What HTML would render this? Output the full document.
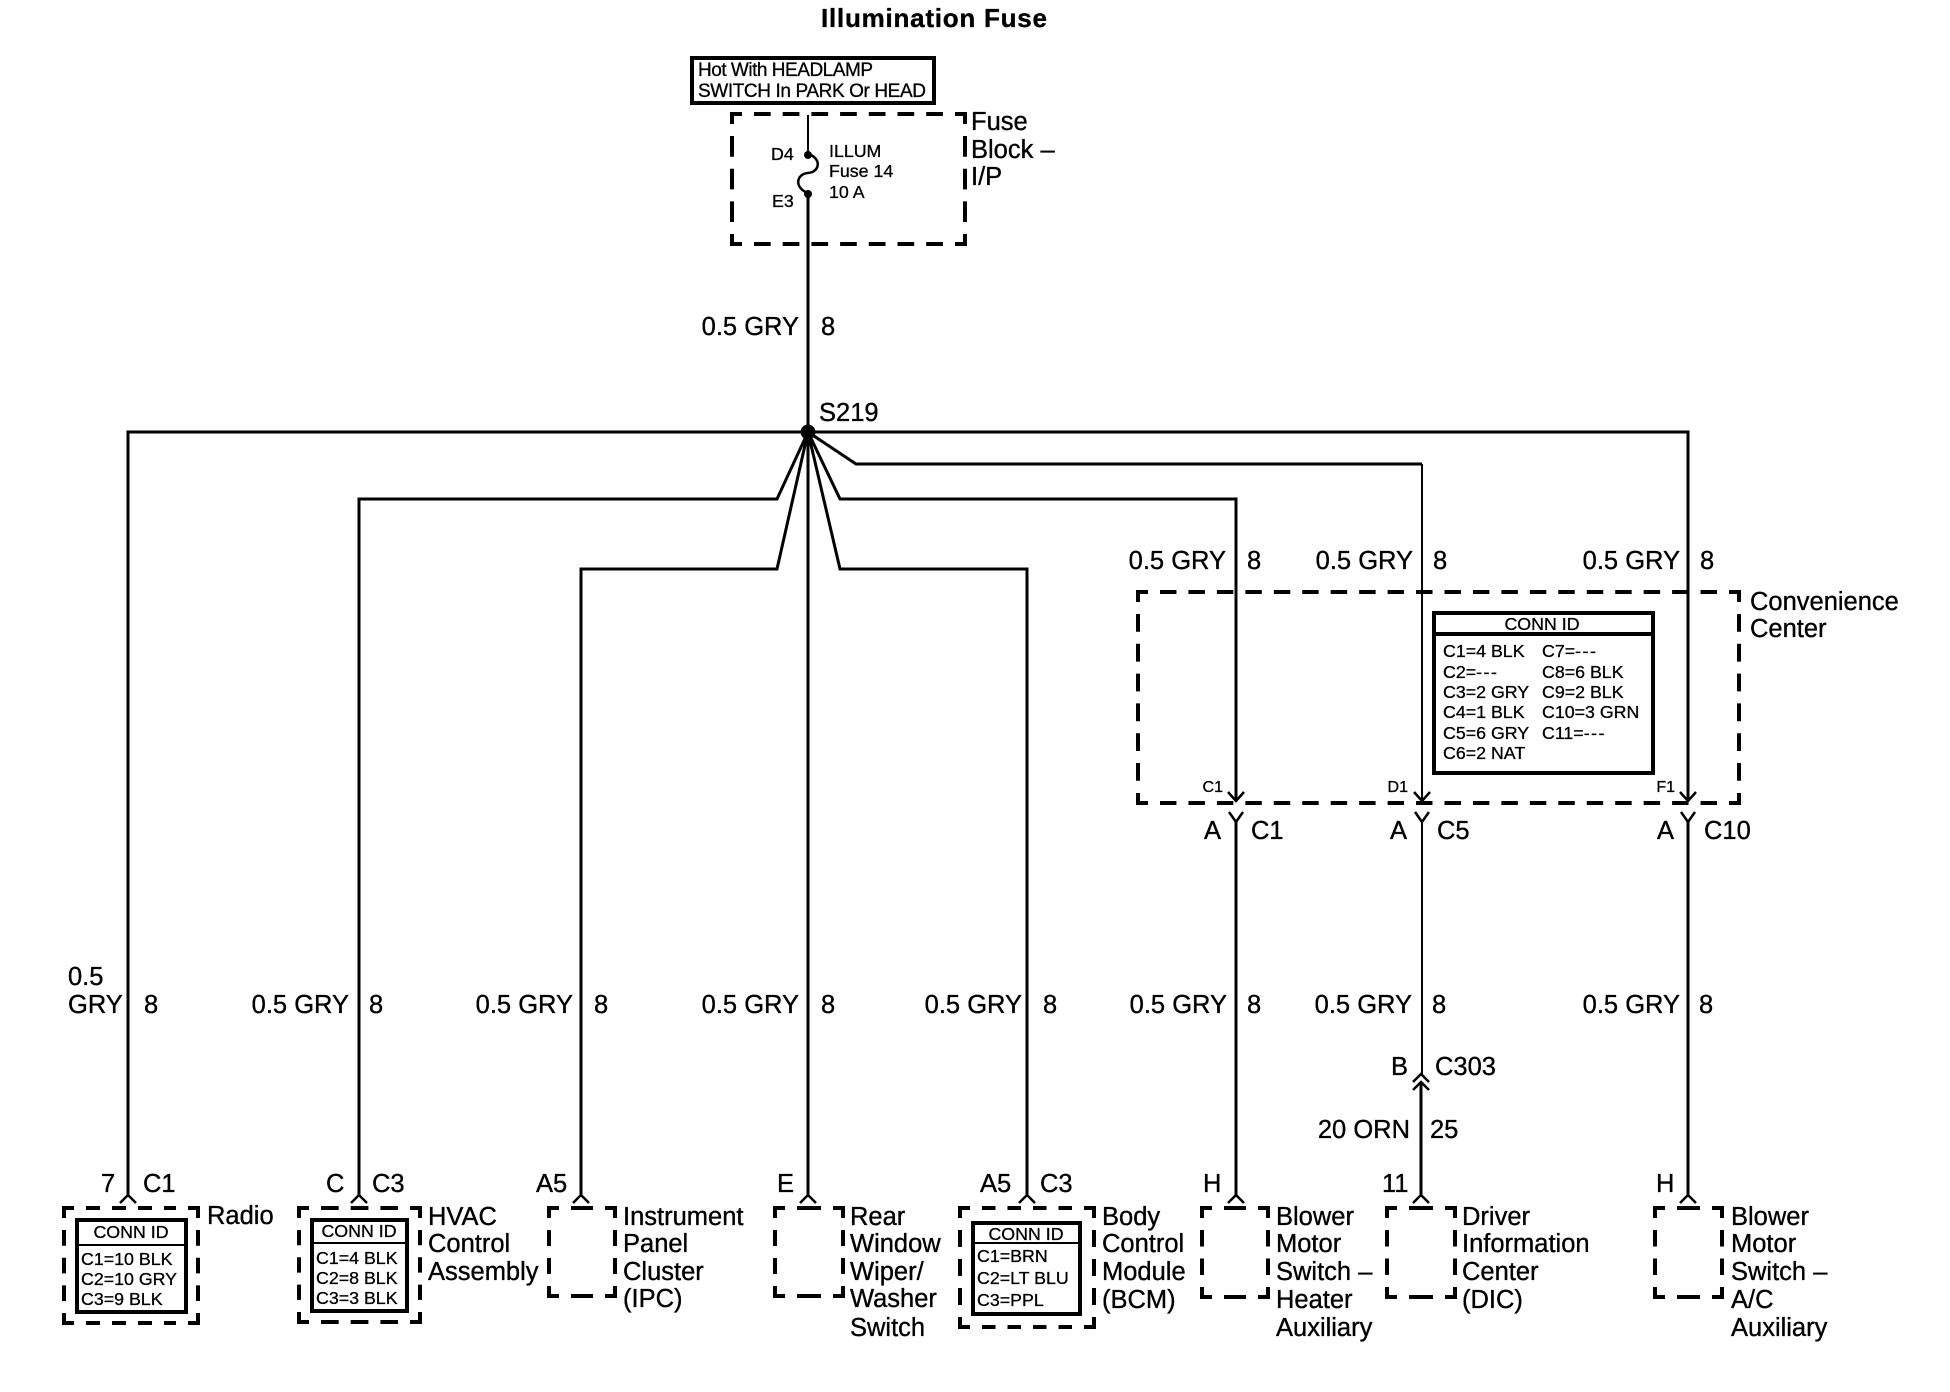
<!DOCTYPE html>
<html><head><meta charset="utf-8"><title>Illumination Fuse</title>
<style>
html,body{margin:0;padding:0;background:#fff}
svg{display:block}
text{font-family:"Liberation Sans",sans-serif;fill:#000;stroke:#000;stroke-width:.35px;font-size:25.5px}
.s{font-size:17.8px;stroke-width:.3px}
.m{font-size:19px;stroke-width:.3px}
.t{font-size:16px;stroke-width:.3px}
.e{text-anchor:end}
.c{text-anchor:middle}
.w{fill:none;stroke:#000;stroke-width:3}
.n{fill:none;stroke:#000;stroke-width:2}
.d{fill:none;stroke:#000;stroke-width:4}
.b{fill:none;stroke:#000;stroke-width:4}
.a{fill:none;stroke:#000;stroke-width:2.5}
.g{letter-spacing:1.5px}
</style></head><body>
<svg xmlns="http://www.w3.org/2000/svg" width="1950" height="1392" viewBox="0 0 1950 1392">
<rect width="1950" height="1392" fill="#fff"/>

<!-- Title and header -->
<text x="821" y="27" style="font-weight:bold;font-size:26px" textLength="226">Illumination Fuse</text>
<rect x="692" y="58" width="242" height="45" class="b"/>
<text x="698" y="76" class="m" textLength="175">Hot With HEADLAMP</text>
<text x="698" y="97" class="m" textLength="228">SWITCH In PARK Or HEAD</text>

<!-- Fuse block -->
<path class="d" d="M742 114H732V124M955 114H965V124M732 234V244H742M965 234V244H955"/>
<path class="d" stroke-dasharray="16.7 12" d="M754 114H943M754 244H943"/>
<path class="d" stroke-dasharray="20.7 12" d="M732 136V222M965 136V222"/>
<path class="n" d="M808 115V154"/>
<path class="a" d="M808 154C822 158 820 172 808 173C796 174 794 188 808 193"/>
<circle cx="808" cy="155" r="4"/><circle cx="808" cy="194" r="4"/>
<path class="w" d="M808 193V432"/>
<text x="771" y="160" class="s">D4</text>
<text x="772" y="207" class="s">E3</text>
<text x="829" y="157" class="s">ILLUM</text>
<text x="829" y="177" class="s">Fuse 14</text>
<text x="829" y="198" class="s">10 A</text>
<text x="971" y="130">Fuse</text>
<text x="971" y="158">Block –</text>
<text x="971" y="185">I/P</text>
<text x="799" y="335" class="e">0.5 GRY</text>
<text x="821" y="335">8</text>

<!-- Splice and wires -->
<circle cx="808" cy="432" r="7.5"/>
<text x="819" y="421">S219</text>
<path class="w" d="M128 1195V432H1688V801"/>
<path class="w" d="M808 432V1195"/>
<path class="w" d="M808 432L777 499H359V1195"/>
<path class="w" d="M808 432L777 569H581V1195"/>
<path class="w" d="M808 432L840 569H1027V1195"/>
<path class="w" d="M808 432L840 499H1236V801"/>
<path class="w" d="M808 432L856 464H1422"/>
<path class="n" d="M1422 464V801"/>
<path class="w" d="M1236 822V1195"/>
<path class="n" d="M1422 822V1075"/>
<path class="w" d="M1421 1082V1195"/>
<path class="w" d="M1688 822V1195"/>

<!-- Convenience center -->
<path class="d" d="M1148 592H1138V602M1729 592H1739V602M1138 793V803H1148M1739 793V803H1729"/>
<path class="d" stroke-dasharray="16.45 12" d="M1160 592H1717M1160 803H1717"/>
<path class="d" stroke-dasharray="17.8 12" d="M1138 614V781M1739 614V781"/>
<rect x="1434" y="613" width="219" height="160" class="b"/>
<path class="b" d="M1434 634H1653"/>
<text x="1542" y="630" class="s c">CONN ID</text>
<text x="1443" y="657" class="s">C1=4 BLK</text><text x="1542" y="657" class="s">C7=<tspan class="g">---</tspan></text>
<text x="1443" y="678" class="s">C2=<tspan class="g">---</tspan></text><text x="1542" y="678" class="s">C8=6 BLK</text>
<text x="1443" y="698" class="s">C3=2 GRY</text><text x="1542" y="698" class="s">C9=2 BLK</text>
<text x="1443" y="718" class="s">C4=1 BLK</text><text x="1542" y="718" class="s">C10=3 GRN</text>
<text x="1443" y="739" class="s">C5=6 GRY</text><text x="1542" y="739" class="s">C11=<tspan class="g">---</tspan></text>
<text x="1443" y="759" class="s">C6=2 NAT</text>
<text x="1750" y="610">Convenience</text>
<text x="1750" y="637">Center</text>
<text x="1226" y="569" class="e">0.5 GRY</text><text x="1247" y="569">8</text>
<text x="1413" y="569" class="e">0.5 GRY</text><text x="1433" y="569">8</text>
<text x="1680" y="569" class="e">0.5 GRY</text><text x="1700" y="569">8</text>
<text x="1223" y="792" class="t e">C1</text>
<text x="1408" y="792" class="t e">D1</text>
<text x="1675" y="792" class="t e">F1</text>
<path class="a" d="M1228 792L1236 801L1244 792M1414 792L1422 801L1430 792M1680 792L1688 801L1696 792"/>
<path class="a" d="M1229 812L1236 822L1243 812M1415 812L1422 822L1429 812M1681 812L1688 822L1695 812"/>
<text x="1221" y="839" class="e">A</text><text x="1251" y="839">C1</text>
<text x="1407" y="839" class="e">A</text><text x="1437" y="839">C5</text>
<text x="1674" y="839" class="e">A</text><text x="1704" y="839">C10</text>

<!-- Mid wire labels -->
<text x="68" y="985">0.5</text>
<text x="68" y="1013">GRY</text>
<text x="144" y="1013">8</text>
<text x="349" y="1013" class="e">0.5 GRY</text><text x="369" y="1013">8</text>
<text x="573" y="1013" class="e">0.5 GRY</text><text x="594" y="1013">8</text>
<text x="799" y="1013" class="e">0.5 GRY</text><text x="821" y="1013">8</text>
<text x="1022" y="1013" class="e">0.5 GRY</text><text x="1043" y="1013">8</text>
<text x="1227" y="1013" class="e">0.5 GRY</text><text x="1247" y="1013">8</text>
<text x="1412" y="1013" class="e">0.5 GRY</text><text x="1432" y="1013">8</text>
<text x="1680" y="1013" class="e">0.5 GRY</text><text x="1699" y="1013">8</text>

<!-- C303 -->
<text x="1391" y="1075">B</text>
<text x="1435" y="1075">C303</text>
<path class="a" d="M1413 1082L1421 1074L1429 1082M1413 1090L1421 1082L1429 1090"/>
<text x="1410" y="1138" class="e">20 ORN</text>
<text x="1430" y="1138">25</text>

<!-- Connector arrows -->
<path class="a" d="M120 1203L128 1195L136 1203M351 1203L359 1195L367 1203M573 1203L581 1195L589 1203M800 1203L808 1195L816 1203M1019 1203L1027 1195L1035 1203M1228 1203L1236 1195L1244 1203M1413 1203L1421 1195L1429 1203M1680 1203L1688 1195L1696 1203"/>

<!-- Connector labels -->
<text x="101" y="1192">7</text><text x="143" y="1192">C1</text>
<text x="326" y="1192">C</text><text x="372" y="1192">C3</text>
<text x="536" y="1192">A5</text>
<text x="777" y="1192">E</text>
<text x="980" y="1192">A5</text><text x="1040" y="1192">C3</text>
<text x="1203" y="1192">H</text>
<text x="1382" y="1192">11</text>
<text x="1656" y="1192">H</text>

<!-- Radio -->
<path class="d" d="M74 1208H64V1218M188 1208H198V1218M64 1313V1323H74M198 1313V1323H188"/>
<path class="d" stroke-dasharray="14 12" d="M86 1208H176M86 1323H176"/>
<path class="d" stroke-dasharray="15.7 12" d="M64 1230V1301M198 1230V1301"/>
<rect x="77" y="1220" width="109" height="92" class="b"/><path class="n" d="M77 1245H186"/>
<text x="131" y="1238" class="s c">CONN ID</text>
<text x="81" y="1265" class="s">C1=10 BLK</text>
<text x="81" y="1285" class="s">C2=10 GRY</text>
<text x="81" y="1305" class="s">C3=9 BLK</text>
<text x="207" y="1224">Radio</text>

<!-- HVAC -->
<path class="d" d="M309 1208H299V1218M410 1208H420V1218M299 1312V1322H309M420 1312V1322H410"/>
<path class="d" stroke-dasharray="17.7 12" d="M321 1208H398M321 1322H398"/>
<path class="d" stroke-dasharray="15.3 12" d="M299 1230V1300M420 1230V1300"/>
<rect x="312" y="1220" width="95" height="91" class="b"/><path class="n" d="M312 1243H407"/>
<text x="359" y="1237" class="s c">CONN ID</text>
<text x="316" y="1264" class="s">C1=4 BLK</text>
<text x="316" y="1284" class="s">C2=8 BLK</text>
<text x="316" y="1304" class="s">C3=3 BLK</text>
<text x="428" y="1225">HVAC</text>
<text x="428" y="1252">Control</text>
<text x="428" y="1280">Assembly</text>

<!-- IPC -->
<path class="d" d="M559 1208H549V1218M605 1208H615V1218M549 1286V1296H559M615 1286V1296H605"/>
<path class="d" stroke-dasharray="22 12" d="M571 1208H593M571 1296H593"/>
<path class="d" stroke-dasharray="16 12" d="M549 1230V1274M615 1230V1274"/>
<text x="623" y="1225">Instrument</text>
<text x="623" y="1252">Panel</text>
<text x="623" y="1280">Cluster</text>
<text x="623" y="1307">(IPC)</text>

<!-- Rear wiper -->
<path class="d" d="M785 1208H775V1218M833 1208H843V1218M775 1286V1296H785M843 1286V1296H833"/>
<path class="d" stroke-dasharray="24 12" d="M797 1208H821M797 1296H821"/>
<path class="d" stroke-dasharray="16 12" d="M775 1230V1274M843 1230V1274"/>
<text x="850" y="1225">Rear</text>
<text x="850" y="1252">Window</text>
<text x="850" y="1280">Wiper/</text>
<text x="850" y="1307">Washer</text>
<text x="850" y="1336">Switch</text>

<!-- BCM -->
<path class="d" d="M970 1208H960V1218M1084 1208H1094V1218M960 1317V1327H970M1094 1317V1327H1084"/>
<path class="d" stroke-dasharray="13.5 12" d="M982 1208H1072M982 1327H1072"/>
<path class="d" stroke-dasharray="17 12" d="M960 1230V1305M1094 1230V1305"/>
<rect x="973" y="1223" width="107" height="91" class="b"/><path class="n" d="M973 1243H1080"/>
<text x="1026" y="1240" class="s c">CONN ID</text>
<text x="977" y="1262" class="s">C1=BRN</text>
<text x="977" y="1284" class="s">C2=LT BLU</text>
<text x="977" y="1306" class="s">C3=PPL</text>
<text x="1102" y="1225">Body</text>
<text x="1102" y="1252">Control</text>
<text x="1102" y="1280">Module</text>
<text x="1102" y="1308">(BCM)</text>

<!-- Blower heater -->
<path class="d" d="M1212 1208H1202V1218M1258 1208H1268V1218M1202 1287V1297H1212M1268 1287V1297H1258"/>
<path class="d" stroke-dasharray="22 12" d="M1224 1208H1246M1224 1297H1246"/>
<path class="d" stroke-dasharray="16.5 12" d="M1202 1230V1275M1268 1230V1275"/>
<text x="1276" y="1225">Blower</text>
<text x="1276" y="1252">Motor</text>
<text x="1276" y="1280">Switch –</text>
<text x="1276" y="1308">Heater</text>
<text x="1276" y="1336">Auxiliary</text>

<!-- DIC -->
<path class="d" d="M1397 1208H1387V1218M1445 1208H1455V1218M1387 1287V1297H1397M1455 1287V1297H1445"/>
<path class="d" stroke-dasharray="24 12" d="M1409 1208H1433M1409 1297H1433"/>
<path class="d" stroke-dasharray="16.5 12" d="M1387 1230V1275M1455 1230V1275"/>
<text x="1462" y="1225">Driver</text>
<text x="1462" y="1252">Information</text>
<text x="1462" y="1280">Center</text>
<text x="1462" y="1308">(DIC)</text>

<!-- Blower A/C -->
<path class="d" d="M1665 1208H1655V1218M1712 1208H1722V1218M1655 1287V1297H1665M1722 1287V1297H1712"/>
<path class="d" stroke-dasharray="23 12" d="M1677 1208H1700M1677 1297H1700"/>
<path class="d" stroke-dasharray="16.5 12" d="M1655 1230V1275M1722 1230V1275"/>
<text x="1731" y="1225">Blower</text>
<text x="1731" y="1252">Motor</text>
<text x="1731" y="1280">Switch –</text>
<text x="1731" y="1308">A/C</text>
<text x="1731" y="1336">Auxiliary</text>
</svg>
</body></html>
